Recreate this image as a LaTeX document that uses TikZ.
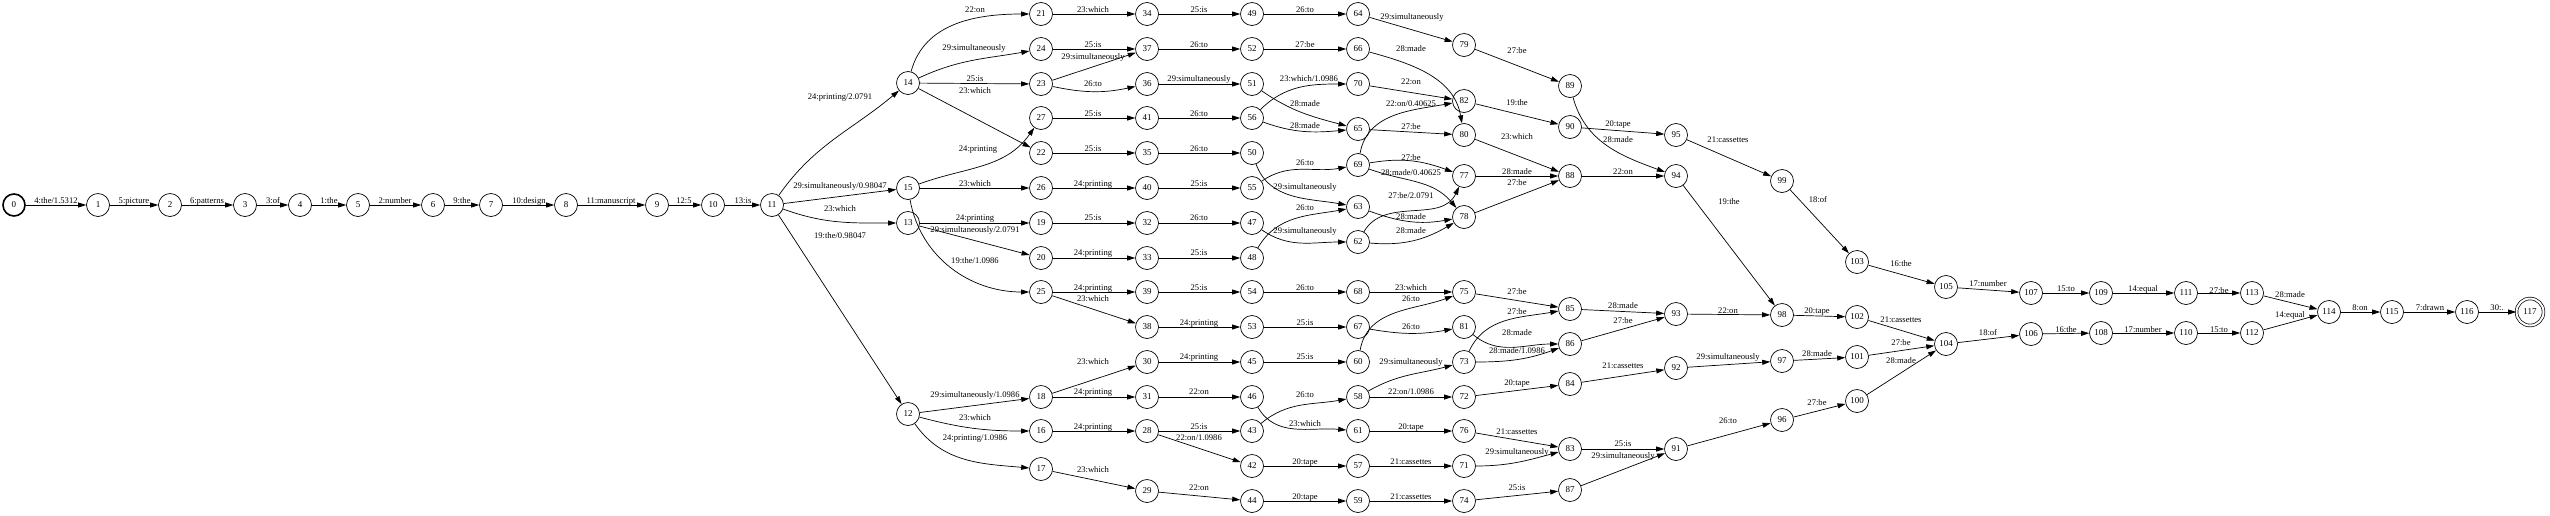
\documentclass[tikz,border=0pt]{standalone}
\usepackage{fontspec}
\setmainfont{Liberation Serif}
\usetikzlibrary{arrows.meta}
\begin{document}
\begin{tikzpicture}[x=1pt,y=1pt,
  arc/.style={-{Triangle[length=8pt,width=5pt]},line width=0.7pt},
  lbl/.style={anchor=mid,inner sep=0pt,font=\fontsize{8.6}{10}\selectfont}]
\useasboundingbox (0,0) rectangle (2550,-515);
		\begin{scope}[every node/.style={circle,draw,line width=0.7pt,minimum size=23pt,inner sep=0pt,font=\fontsize{9}{10}\selectfont}]
		\node[line width=1.6pt,minimum size=22pt] (s0) at (14,-205) {0};
		\foreach \n/\x/\y in {1/98/205,2/170/205,3/245/205,4/300/205,5/358/205,6/433/205,7/491/205,8/566/205,9/657/205,10/713/205,11/772/205,
		12/908/414,13/908/223,14/908/83,15/908/188,
		16/1041/431,17/1041/469,18/1041/397,19/1041/223,20/1041/258,21/1041/14,22/1041/153,23/1041/84,24/1041/49,25/1041/292,26/1041/188,27/1041/118,
		28/1147/431,29/1147/491,30/1147/362,31/1147/397,32/1147/223,33/1147/258,34/1147/14,35/1147/153,36/1147/84,37/1147/49,38/1147/327,39/1147/292,40/1147/188,41/1147/118,
		42/1252/466,43/1252/431,44/1252/501,45/1252/362,46/1252/397,47/1252/223,48/1252/258,49/1252/14,50/1252/153,51/1252/84,52/1252/49,53/1252/327,54/1252/292,55/1252/188,56/1252/118,
		57/1358/466,58/1358/397,59/1358/501,60/1358/362,61/1358/431,62/1358/242,63/1358/207,64/1358/14,65/1358/129,66/1358/49,67/1358/327,68/1358/292,69/1358/165,70/1358/84,
		71/1464/466,72/1464/397,73/1464/362,74/1464/501,75/1464/292,76/1464/431,77/1464/176,78/1464/217,79/1464/45,80/1464/135,81/1464/327,82/1464/101,
		83/1570/449,84/1570/384,85/1570/309,86/1570/344,87/1570/490,88/1570/176,89/1570/86,90/1570/127,
		91/1676/449,92/1676/368,93/1676/314,94/1676/176,95/1676/135,
		96/1782/420,97/1782/361,98/1782/315,99/1782/181,
		100/1857/401,101/1857/357,102/1857/317,103/1857/262,
		104/1946/344,105/1946/287,106/2031/334,107/2031/293,108/2101/333,109/2101/293,
		110/2186/333,111/2186/293,112/2252/333,113/2252/293,114/2329/312,115/2392/312,116/2467/312}
		\node (s\n) at (\x,-\y) {\n};
		\node[double,double distance=2pt,minimum size=27pt] (s117) at (2530,-312) {117};
		\end{scope}
		% straight arcs: from/to/label/label x/label y
		\foreach \a/\b/\t/\lx/\ly in {0/1/{4:the/1.5312}/56/201,1/2/5:picture/134/201,2/3/6:patterns/207/201,3/4/3:of/273/201,
		4/5/1:the/329/201,5/6/2:number/395/201,6/7/9:the/462/201,7/8/10:design/529/201,8/9/11:manuscript/611/201,
		9/10/12:5/684/201,10/11/13:is/743/201,
		11/15/{29:simultaneously/0.98047}/840/186,11/12/{19:the/0.98047}/840/236,
		12/18/{29:simultaneously/1.0986}/975/395,13/19/24:printing/975/218,13/20/{29:simultaneously/2.0791}/975/230,
		14/23/25:is/975/79,14/22/23:which/975/91,15/26/23:which/975/184,
		16/28/24:printing/1093/427,17/29/23:which/1093/470,18/30/23:which/1093/362,18/31/24:printing/1093/392,
		19/32/25:is/1093/218,20/33/24:printing/1093/253,21/34/23:which/1093/10,22/35/25:is/1093/149,
		23/37/29:simultaneously/1093/57,24/37/25:is/1093/45,25/39/24:printing/1093/288,25/38/23:which/1093/299,
		26/40/24:printing/1093/184,27/41/25:is/1093/114,
		28/43/25:is/1199/427,28/42/{22:on/1.0986}/1199/438,29/44/22:on/1199/488,30/45/24:printing/1199/357,
		31/46/22:on/1199/392,32/47/26:to/1199/218,33/48/25:is/1199/253,34/49/25:is/1199/10,35/50/26:to/1199/149,
		36/51/29:simultaneously/1199/79,37/52/26:to/1199/45,38/53/24:printing/1199/323,39/54/25:is/1199/288,
		40/55/25:is/1199/184,41/56/26:to/1199/114,
		42/57/20:tape/1305/462,44/59/20:tape/1305/497,45/60/25:is/1305/357,49/64/26:to/1305/10,52/66/27:be/1305/45,
		53/67/25:is/1305/323,54/68/26:to/1305/288,
		57/71/21:cassettes/1411/462,58/72/{22:on/1.0986}/1411/392,59/74/21:cassettes/1411/497,61/76/20:tape/1411/427,
		64/79/29:simultaneously/1412/17,65/80/27:be/1411/127,68/75/23:which/1411/288,70/82/22:on/1411/82,
		72/84/20:tape/1517/383,74/87/25:is/1517/488,75/85/27:be/1517/292,76/83/21:cassettes/1517/432,
		77/88/28:made/1517/172,78/88/27:be/1517/183,79/89/27:be/1517/51,80/88/23:which/1517/137,82/90/19:the/1517/103,
		83/91/25:is/1623/444,84/92/21:cassettes/1623/366,85/93/28:made/1623/306,86/93/27:be/1623/321,
		87/91/29:simultaneously/1623/456,88/94/22:on/1623/172,90/95/20:tape/1618/124,
		91/96/26:to/1728/421,92/97/29:simultaneously/1728/357,93/98/22:on/1728/311,94/98/19:the/1729/202,95/99/21:cassettes/1728/140,
		96/100/27:be/1817/403,97/101/28:made/1817/354,98/102/20:tape/1817/311,99/103/18:of/1818/200,
		100/104/28:made/1901/361,101/104/27:be/1901/343,102/104/21:cassettes/1901/320,103/105/16:the/1901/264,
		104/106/18:of/1988/333,105/107/17:number/1988/284,106/108/16:the/2066/330,107/109/15:to/2066/289,
		108/110/17:number/2143/330,109/111/14:equal/2143/289,110/112/15:to/2219/330,111/113/27:be/2219/291,
		112/114/14:equal/2290/315,113/114/28:made/2290/295,114/115/8:on/2360/308,115/116/7:drawn/2430/308,116/117/30:./2497/308}
		\draw[arc] (s\a) -- (s\b) node[lbl] at (\lx,-\ly) {\t};
		% curved arcs: from/to/out/in/label/label x/label y
		\foreach \a/\b/\o/\i/\t/\lx/\ly in {11/14/55/220/{24:printing/2.0791}/840/97,11/13/-20/180/23:which/840/209,
		12/16/-15/180/23:which/975/418,12/17/-55/175/{24:printing/1.0986}/975/438,
		14/21/75/180/22:on/975/10,14/24/25/190/29:simultaneously/974/48,
		15/27/20/235/24:printing/978/149,15/25/-80/180/{19:the/1.0986}/975/261,
		23/36/-12/192/26:to/1093/84,
		43/58/40/190/26:to/1305/395,46/61/-60/175/23:which/1305/424,47/62/-35/180/29:simultaneously/1305/231,
		48/63/60/190/26:to/1305/208,50/63/-70/170/29:simultaneously/1305/187,51/65/-35/165/28:made/1305/104,
		55/69/35/190/26:to/1305/163,56/70/45/180/{23:which/1.0986}/1309/79,56/65/-20/185/28:made/1305/126,
		58/73/30/195/29:simultaneously/1411/362,60/75/80/200/26:to/1411/299,62/77/60/245/{27:be/2.0791}/1411/196,
		62/78/-5/210/28:made/1411/231,63/78/-20/190/28:made/1411/217,66/80/-15/100/28:made/1411/49,
		67/81/-10/190/26:to/1411/327,69/82/80/190/{22:on/0.40625}/1411/104,69/77/10/160/27:be/1411/158,
		69/78/-20/130/{28:made/0.40625}/1411/173,
		71/83/0/195/29:simultaneously/1517/452,73/85/65/190/27:be/1517/312,73/86/0/200/{28:made/1.0986}/1517/351,
		81/86/-40/180/28:made/1517/333,89/94/-75/160/28:made/1618/140}
		\draw[arc] (s\a) to[out=\o,in=\i] (s\b) node[lbl] at (\lx,-\ly) {\t};
\end{tikzpicture}
\end{document}
